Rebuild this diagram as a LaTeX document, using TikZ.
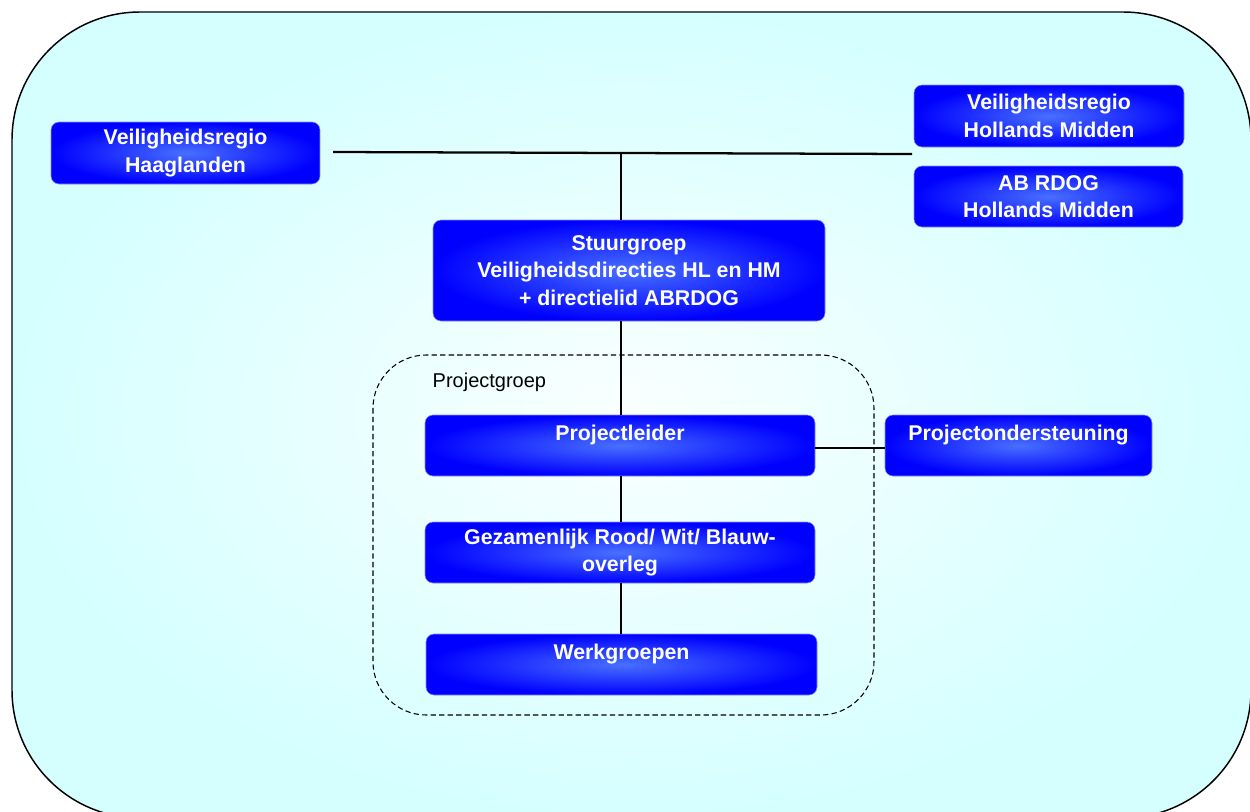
\documentclass[tikz,border=0pt]{standalone}
\usepackage{fontspec}
\setmainfont{Liberation Sans}
\definecolor{boxin}{RGB}{72,112,255}
\definecolor{boxout}{RGB}{0,0,255}
\definecolor{bgin}{RGB}{250,255,255}
\definecolor{bgout}{RGB}{213,255,255}
\begin{document}
\begin{tikzpicture}[x=0.75pt,y=-0.75pt,
  box/.style={rounded corners=6pt, shading=radial, inner color=boxin, outer color=boxout,
    draw=blue!45!white, line width=0.4pt, text=white, align=center, inner sep=0pt,
    font=\bfseries\fontsize{16}{20.6}\selectfont},
  topbox/.style={box, text height=12pt, text depth=20.25pt},
  conn/.style={line width=1.7pt, black}]
\useasboundingbox (0,0) rectangle (1250,811);
% background
\draw[line width=1.1pt, rounded corners=96pt, shading=radial, inner color=bgin, outer color=bgout]
  (12,12) rectangle (1251,818);
\draw[line width=0.8pt, dash pattern=on 4pt off 2.4pt, rounded corners=40pt] (373,355) rectangle (874,715);
\node[anchor=west, font=\fontsize{15}{18}\selectfont] (pglabel) at (428,382) {Projectgroep};
% boxes
\node[box, minimum width=201.75pt, minimum height=46.5pt] (hg) at (185.5,153) {Veiligheidsregio\\Haaglanden};
\node[box, minimum width=202.5pt, minimum height=46.5pt] (vr) at (1049,116) {Veiligheidsregio\\Hollands Midden};
\node[box, minimum width=201.75pt, minimum height=45.75pt] (ab) at (1048.5,196.5) {AB RDOG\\Hollands Midden};
\node[box, minimum width=294pt, minimum height=75.75pt] (st) at (629,270.5) {Stuurgroep\\Veiligheidsdirecties HL en HM\\+ directielid ABRDOG};
\node[topbox, minimum width=292.5pt, minimum height=45.75pt] (pl) at (620,445.5) {Projectleider};
\node[topbox, minimum width=200.25pt, minimum height=45.75pt] (po) at (1018.5,445.5) {Projectondersteuning};
\node[box, minimum width=292.5pt, minimum height=45.75pt] (gz) at (620,552.5) {Gezamenlijk Rood/ Wit/ Blauw-\\overleg};
\node[topbox, minimum width=293.25pt, minimum height=45.75pt] (wg) at (621.5,664.5) {Werkgroepen};
% connectors
\coordinate (hl) at (333,152);
\coordinate (hr) at (912,154);
\coordinate (j) at (621,153);
\draw[conn] (hl) -- (hr);
\draw[conn] (j) -- (j |- st.north);
\draw[conn] (st.south -| j) -- (pl.north -| j);
\draw[conn] (pl.south -| j) -- (gz.north -| j);
\draw[conn] (gz.south -| j) -- (wg.north -| j);
\draw[conn] ([yshift=-2pt]pl.east) -- ([yshift=-2pt]po.west);
\end{tikzpicture}
\end{document}
